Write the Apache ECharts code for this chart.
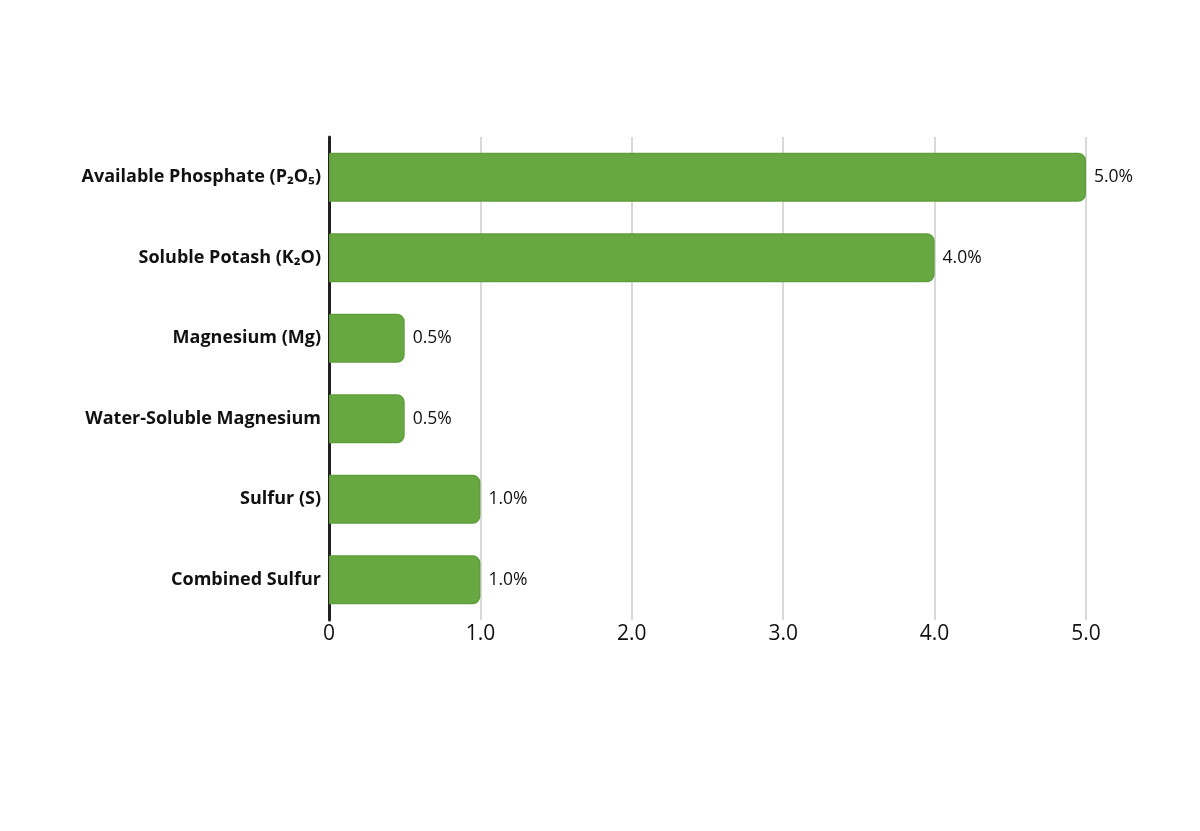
<!DOCTYPE html>
<html>
<head>
<meta charset="utf-8">
<script src="https://cdn.jsdelivr.net/npm/echarts@6/dist/echarts.min.js"></script>
<style>html,body{margin:0;padding:0;background:#fff;}#c{width:1200px;height:831px;}</style>
</head>
<body>
<div id="c"></div>
<script>
var categories = ['Available Phosphate (P₂O₅)', 'Soluble Potash (K₂O)', 'Magnesium (Mg)', 'Water-Soluble Magnesium', 'Sulfur (S)', 'Combined Sulfur'];
var values = [5.0, 4.0, 0.5, 0.5, 1.0, 1.0];
var xTicks = [0, 1, 2, 3, 4, 5];

var chart = echarts.init(document.getElementById('c'));
chart.setOption({
  animation: false,
  backgroundColor: '#fff',
  grid: { left: 329, right: 114, top: 137, bottom: 211 },
  xAxis: {
    type: 'value', min: 0, max: 5, interval: 1,
    axisLine: { show: false },
    axisTick: { show: false },
    splitLine: { show: true, lineStyle: { color: '#d9d9d9', width: 2 } },
    axisLabel: {
      margin: 4, color: '#111', fontSize: 21, fontFamily: 'Open Sans',
      formatter: function (v) { return v === 0 ? '0' : v.toFixed(1); }
    }
  },
  yAxis: {
    type: 'category', data: categories, inverse: true,
    axisLine: { show: true, lineStyle: { color: '#231f20', width: 3 } },
    axisTick: { show: false },
    axisLabel: { color: '#111', fontSize: 18, fontWeight: 'bold', fontFamily: 'Open Sans', margin: 8 }
  },
  series: [{
    type: 'bar', data: values, barWidth: 49,
    itemStyle: { color: '#68a843', borderColor: '#5e9f3b', borderWidth: 1.5, borderRadius: [0, 7, 7, 0] },
    label: {
      show: true, position: 'right', distance: 8, color: '#111', fontSize: 17.5, fontFamily: 'Open Sans',
      formatter: function (p) { return p.value.toFixed(1) + '%'; }
    }
  }]
});
</script>
</body>
</html>
